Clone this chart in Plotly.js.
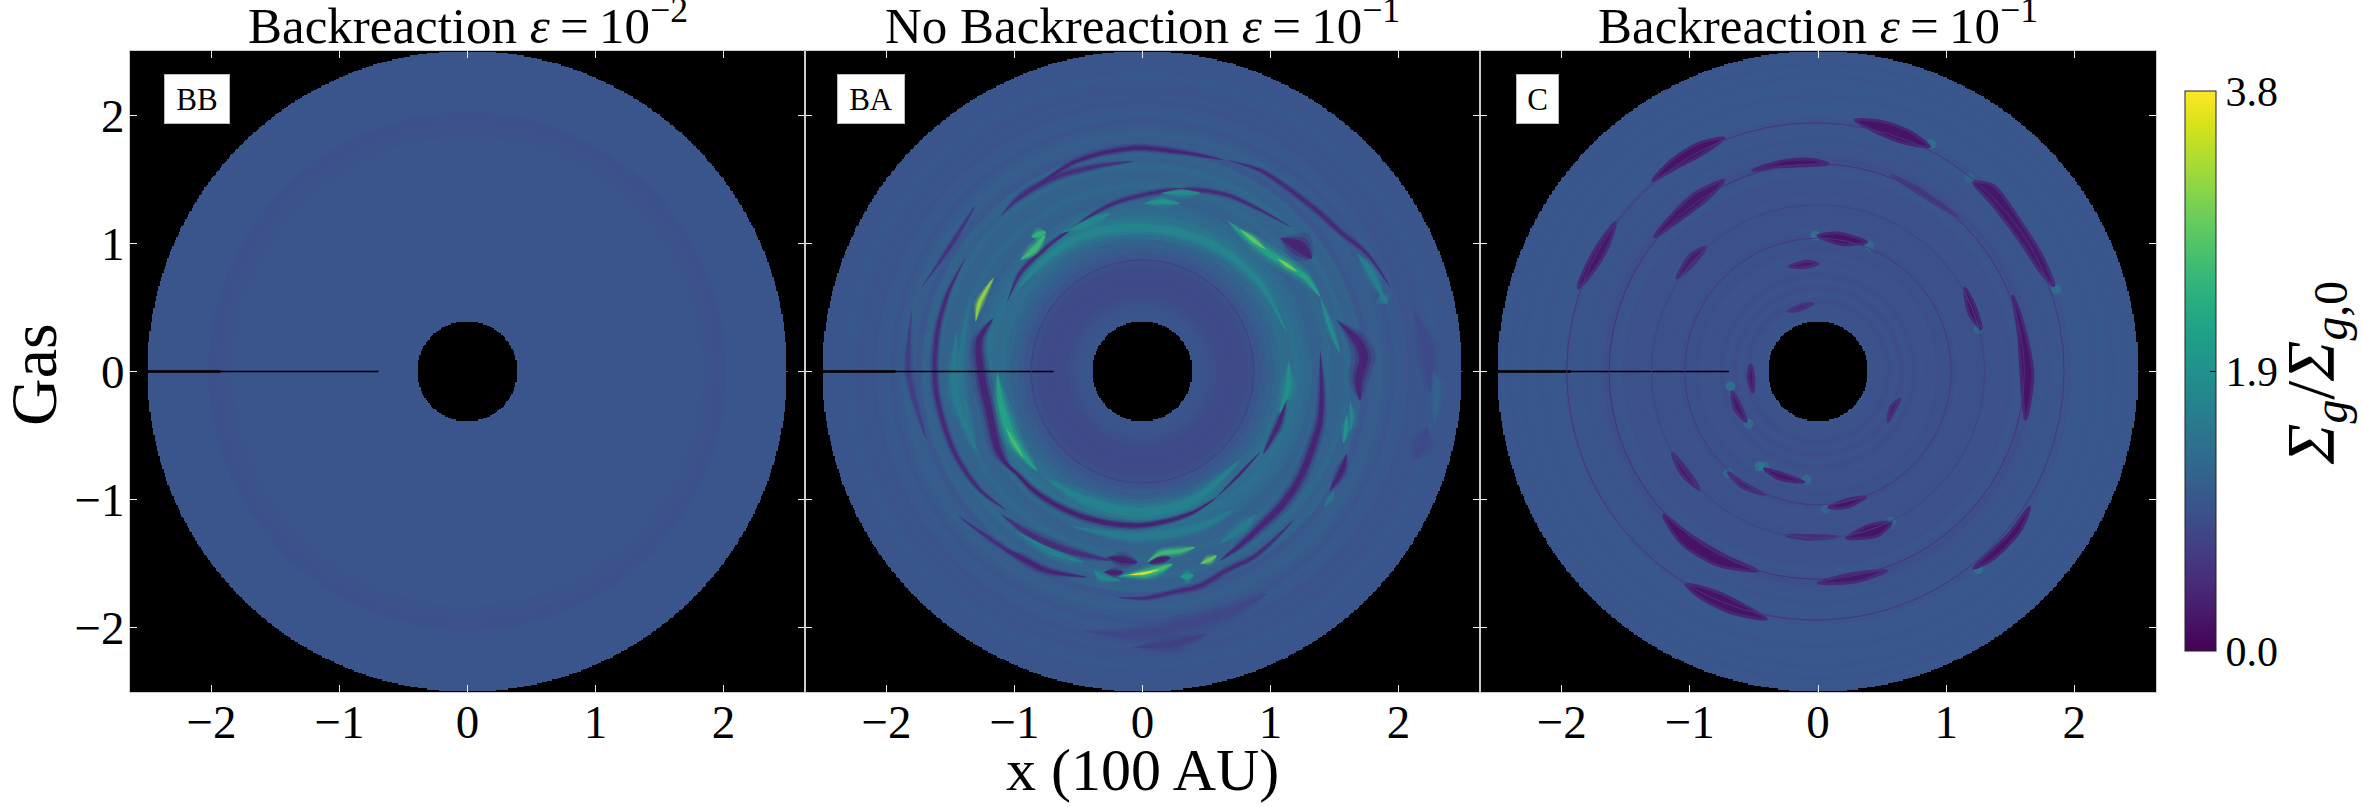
<!DOCTYPE html>
<html><head><meta charset="utf-8">
<script src="https://cdn.plot.ly/plotly-3.0.1.min.js"></script>
<style>html,body{margin:0;padding:0;background:#fff}</style></head>
<body><div id="chart" style="width:2362px;height:807px"></div>
<script>
// ---------- data (x, y in 100 AU; values in Sigma_g/Sigma_g0) ----------
const panelTitles = ['Backreaction <i>ε</i>\u2009=\u200910<sup>−2</sup>','No Backreaction <i>ε</i>\u2009=\u200910<sup>−1</sup>','Backreaction <i>ε</i>\u2009=\u200910<sup>−1</sup>'];
const panelLabels = ['BB','BA','C'];
const tickValues = [-2,-1,0,1,2];
const colorTicks = [0,1.9,3.8];
const colorTickLabels = ['0.0','1.9','3.8'];
const diskOuter = 2.5, diskInner = 0.39;
const slitThickX = [-2.5,-1.93], slitThinX = [-2.5,-0.695], slitY = [0,0];

// azimuthal-mean profile, one value per radius
const radii = [.40,.45,.50,.55,.60,.65,.70,.75,.80,.85,.90,.95,1.0,1.05,1.10,1.15,1.20,1.25,1.30,1.35,1.40,1.45,1.50,1.55,1.60,1.65,1.70,1.75,1.80,1.85,1.90,1.95,2.0,2.05,2.10,2.15,2.20,2.25,2.30,2.35,2.40,2.45,2.50];
const profileBB = [1.0,1.0,1.0,.99,.99,1.0,1.0,1.0,1.0,1.0,1.0,1.0,1.0,1.0,1.0,1.0,1.0,1.0,1.0,1.0,1.0,1.0,1.0,1.0,1.0,1.0,1.0,1.0,1.0,.98,.95,.93,.94,.99,1.0,1.0,1.0,1.0,1.0,1.0,1.0,1.0,1.0];
const profileBA = [1.0,1.0,.98,.92,.88,.85,.84,.85,.88,.92,1.0,1.08,1.15,1.25,1.35,1.3,1.4,1.32,1.25,1.15,1.2,1.25,1.18,1.18,1.25,1.15,1.2,1.02,1.08,1.12,1.05,1.0,1.05,1.02,.97,1.0,.97,1.0,1.03,1.0,1.0,1.0,1.0];
const profileC = [1.0,.96,.95,.92,.95,.9,.95,.92,.96,.93,.96,.92,.94,.92,.96,.93,.96,.93,.94,.96,.93,.96,.94,1.0,.96,.92,.96,1.0,.98,1.0,1.0,.96,1.02,1.04,1.02,1.0,1.04,1.02,1.0,1.03,1.0,1.02,1.0];

// thin rings: centre x, radius, value
const ringsBAx = [0], ringsBAr = [.87], ringsBAv = [.72];
const ringsCx = [-.02,-.01,0,0], ringsCr = [1.94,1.62,1.3,1.04], ringsCv = [.6,.55,.75,.65];

// streaks in panel BA
const baV = [.3,.3,.35,.35,.35,.35,.35,.35,.4,.35,.4,.45,.35,.3,.3,.3,.4,.8,.7,.4,
 .45,.4,.85,.85,.65,.5,.45,
 1.7,1.6,1.6,1.7,1.6,1.2,1.6,1.5,
 1.75,1.9,2.2,2.9,3.1,1.9,3.2,2.5,2.6,2.2,2.7,2.0,1.9,1.8,2.0,1.8,1.5,1.7,
 2.2,2.7,3.8,2.6,2.9,2.1,1.8];
const baX = [
 [-1.11,-.98,-.85,-.67,-.46,-.227,-.018,.19,.40,.58],
 [.58,.763,.92],
 [-1.0,-1.118,-1.205,-1.258,-1.275,-1.17],
 [1.13,1.065,.945],
 [1.388,1.40,1.388,1.31,1.206,1.076,.945,.763,.607],
 [1.518,1.674,1.727,1.688,1.70],
 [1.596,1.557,1.466],
 [1.076,1.232,1.323],
 [.66,.92,1.154,1.388,1.544,1.753,1.935],
 [-1.0,-.54,-.09,.3,.64],
 [-.695,-.46,-.227,.06,.346,.66,.92,1.154],
 [-1.11,-.85,-.59,-.25],
 [-1.11,-.956,-.747,-.435],
 [-.28,-.15,-.04],
 [-.30,-.22,-.15],
 [.05,.13,.216],
 [-.2,.008,.242,.45,.66,.867,1.02,1.18],
 [-.46,-.07,.346,.71,.97],
 [-.07,.24,.5],
 [-1.38,-1.52,-1.606,-1.613,-1.467,-1.275,-1.066],
 [-1.11,-.956,-.67,-.36,-.07],
 [-1.06,-.956,-.773,-.513],
 [2.12,2.22,2.25],
 [2.22,2.2,2.12],
 [-1.8,-1.83,-1.69],
 [-1.73,-1.48,-1.31],
 [-1.45,-1.17,-.79],
 [-.77,-.46,-.02,.4,.76],
 [-.59,-.07,.45,.71],
 [.89,.79,.607],
 [-1.0,-.72,-.46],
 [-1.45,-1.47,-1.29],
 [2.27,2.3,2.28],
 [1.857,1.88,1.91],
 [-1.34,-1.42,-1.3],
 [-1.0,-.8,-.51,-.2,.19,.58,.92,1.13],
 [1.14,1.14,1.07],
 [.66,.815,.97,1.13,1.28,1.388],
 [.76,.86,.96],
 [1.05,1.13,1.206],
 [1.388,1.466,1.544],
 [-1.303,-1.275,-1.164],
 [-.87,-.81,-.753],
 [-.956,-.85,-.76],
 [-1.136,-1.10,-.997,-.822],
 [-1.066,-1.0,-.927],
 [.008,.15,.294],
 [.138,.3,.45],
 [-.64,-.435,-.25],
 [1.596,1.59,1.57],
 [1.62,1.635,1.63],
 [1.42,1.46,1.5],
 [1.68,1.78,1.88],
 [-.2,.008,.14,.24],
 [-.16,.008,.14,.226],
 [-.11,.008,.13],
 [.034,.138,.294,.41],
 [.45,.52,.58],
 [.294,.35,.40],
 [-.38,-.33,-.17]
];
const baY = [
 [-.667,-.797,-.927,-1.044,-1.135,-1.188,-1.2,-1.167,-1.096,-.98],
 [-.98,-.797,-.628],
 [-.8,-.637,-.275,-.034,.247,.41],
 [-.2,-.406,-.64],
 [.167,-.12,-.38,-.64,-.875,-1.057,-1.187,-1.357,-1.474],
 [.40,.245,.115,-.068,-.224],
 [-.64,-.77,-.927],
 [1.04,.974,.883],
 [1.65,1.57,1.417,1.234,1.09,.92,.66],
 [1.31,1.63,1.74,1.71,1.65],
 [1.0,1.18,1.31,1.39,1.42,1.377,1.26,1.13],
 [-1.11,-1.29,-1.396,-1.474],
 [-1.37,-1.448,-1.552,-1.604],
 [-1.45,-1.47,-1.49],
 [-1.565,-1.57,-1.565],
 [-1.5,-1.47,-1.45],
 [-1.76,-1.77,-1.72,-1.67,-1.55,-1.448,-1.32,-1.16],
 [-2.02,-2.05,-1.97,-1.865,-1.73],
 [-2.15,-2.125,-2.05],
 [.89,.61,.287,-.155,-.637,-.919,-1.08],
 [1.21,1.365,1.52,1.6,1.64],
 [.53,.766,.948,1.156],
 [.48,.19,-.17],
 [-.43,-.55,-.69],
 [.49,0,-.52],
 [.65,1.01,1.29],
 [-1.12,-1.32,-1.56],
 [-.82,-1.0,-1.1,-1.0,-.69],
 [-1.2,-1.29,-1.21,-1.08],
 [-1.11,-1.21,-1.34],
 [-1.24,-1.4,-1.49],
 [.33,-.15,-.64],
 [0,-.1,-.4],
 [.61,.57,.53],
 [.6,0,-.6],
 [.61,.84,1.04,1.117,1.104,.974,.687,.297],
 [.09,-.12,-.33],
 [1.18,1.05,.935,.83,.727,.583],
 [1.11,1.03,.955],
 [.883,.83,.779],
 [.583,.349,.14],
 [.388,.529,.73],
 [1.05,1.07,1.09],
 [.87,.948,1.065],
 [0,-.275,-.557,-.778],
 [-.436,-.56,-.677],
 [1.31,1.325,1.31],
 [1.39,1.40,1.39],
 [1.08,1.156,1.234],
 [-.328,-.45,-.56],
 [-.22,-.34,-.46],
 [-1.06,-1.0,-.93],
 [.92,.78,.58],
 [-1.60,-1.578,-1.54,-1.50],
 [-1.592,-1.578,-1.54,-1.505],
 [-1.585,-1.575,-1.545],
 [-1.487,-1.42,-1.40,-1.37],
 [-1.50,-1.47,-1.435],
 [-1.60,-1.60,-1.59],
 [-1.55,-1.6,-1.63]
];
const baW = [5,2,9,5,7,11,6,14,4,4,3.5,7,5,8,6,7,4,10,8,4.5,
 4.5,3.5,12,12,5,3,3,
 12,8,8,7,9,9,9,7,
 10,7,8,4.5,4,4.5,4.5,7,7,9,4.5,6,7,8,5,4,5,8,
 7,5,3,5,5,7,6];

// dark crescents in panel C, value of each and its outline
const cV = [.2,.2,.2,.25,.25,.25,.3,.45,.2,.25,.35,.2,.2,.25,.25,.3,.25,.3,.2,.2,.2,.3,.2,.2,.25,.2];
const cX = [
 [.29,.50,.71,.87,.68,.47],
 [-.735,-.93,-1.135,-1.29,-1.10,-.91],
 [-.51,-.265,-.056,.08,-.125,-.33],
 [1.215,1.37,1.58,1.755,1.84,1.74,1.58,1.37],
 [-.735,-.96,-1.17,-1.275,-1.066,-.857],
 [-1.58,-1.73,-1.85,-1.87,-1.745,-1.64],
 [-.875,-.996,-1.10,-.996],
 [.57,.815,1.09,.85],
 [0,.153,.38,.19],
 [-.22,-.09,0,-.125],
 [-.23,-.125,-.04,-.14],
 [1.146,1.216,1.275,1.18],
 [1.52,1.6,1.676,1.62,1.59,1.565],
 [-.525,-.5,-.51,-.545],
 [-.67,-.61,-.56,-.65],
 [.64,.59,.547,.57],
 [-1.136,-1.014,-.927,-1.066],
 [-.70,-.56,-.42,-.596],
 [-.42,-.265,-.108,-.30],
 [.084,.223,.37,.223],
 [.223,.397,.571,.467],
 [-.247,-.073,.153,-.073],
 [-1.205,-.99,-.72,-.474,-.787,-1.066],
 [1.65,1.477,1.216,1.37,1.58],
 [0,.258,.537,.293],
 [-1.03,-.787,-.404,-.683,-.927]
];
const cY = [
 [1.96,1.95,1.875,1.755,1.78,1.86],
 [1.82,1.78,1.655,1.49,1.59,1.69],
 [1.57,1.645,1.655,1.62,1.605,1.595],
 [1.475,1.45,1.17,.89,.67,.77,1.01,1.29],
 [1.49,1.39,1.19,1.05,1.19,1.35],
 [1.165,.97,.73,.65,.79,.97],
 [.97,.91,.73,.81],
 [1.535,1.41,1.21,1.35],
 [1.06,1.08,1.01,.99],
 [.82,.86,.84,.81],
 [.47,.52,.53,.48],
 [.65,.53,.33,.45],
 [.59,.37,-.03,-.375,-.115,.29],
 [.055,-.055,-.16,-.055],
 [-.16,-.255,-.39,-.295],
 [-.215,-.315,-.39,-.275],
 [-.637,-.778,-.92,-.798],
 [-.79,-.88,-.96,-.90],
 [-.757,-.80,-.862,-.84],
 [-1.06,-1.0,-.98,-1.06],
 [-1.30,-1.2,-1.18,-1.28],
 [-1.28,-1.28,-1.288,-1.31],
 [-1.12,-1.28,-1.44,-1.554,-1.51,-1.34],
 [-1.06,-1.28,-1.534,-1.46,-1.24],
 [-1.65,-1.58,-1.554,-1.642],
 [-1.66,-1.72,-1.93,-1.88,-1.76]
];
// brighter spots at the crescent tips
const spotsX = [.885,1.86,-.02,1.25,-.456,-.683,-.54,-.09,1.25,.40,-.42,-.70,1.18,.06,.57];
const spotsY = [1.775,.64,1.06,-1.54,-.74,-.115,-.405,-.845,.33,.98,-.74,-.79,1.51,-1.07,-1.17];
const spotsV = [1.7,1.8,1.8,1.8,1.9,1.8,1.7,1.7,1.6,1.6,1.7,1.6,1.5,1.5,1.6];

// ---------- styles and layout ----------
const serif = '"Liberation Serif","Times New Roman",serif';
const W = 2362, H = 807, pxPerUnit = 128;
const viridisStops = ['#440154','#482878','#3e4989','#31688e','#26828e','#1f9e89','#35b779','#6ece58','#b5de2b','#fde725'];
function colourOf(v){
  const t = Math.max(0,Math.min(1,v/3.8))*(viridisStops.length-1), i = Math.min(Math.floor(t),viridisStops.length-2), f = t-i;
  const rgb = s=>[1,3,5].map(k=>parseInt(s.substr(k,2),16));
  const a = rgb(viridisStops[i]), b = rgb(viridisStops[i+1]);
  return 'rgb('+a.map((c,k)=>Math.round(c+(b[k]-c)*f)).join(',')+')';
}
// outline of a streak that tapers to its two tips, for a read centre line and width
function streakOutline(xs,ys,widthPx){
  const n = xs.length, L = [], R = [];
  for(let i=0;i<n;i++){
    const a = Math.max(i-1,0), b = Math.min(i+1,n-1);
    let dx = xs[b]-xs[a], dy = ys[b]-ys[a]; const d = Math.hypot(dx,dy)||1; dx/=d; dy/=d;
    const h = widthPx/2/pxPerUnit*Math.pow(Math.sin(Math.PI*i/(n-1)),.6);
    L.push([xs[i]-dy*h,ys[i]+dx*h]); R.push([xs[i]+dy*h,ys[i]-dx*h]);
  }
  const ring = L.concat(R.reverse().slice(1));
  ring.push(ring[0]);
  return {x:ring.map(p=>p[0]),y:ring.map(p=>p[1])};
}
const panelLeft = [130,805,1480], panelRight = [805,1480,2156], panelTop = 51, panelBottom = 692;
const xHalf = 2.637;

// pixels of the disk, each taking the profile value of its nearest radius
const cell = 0.01, cells = [];
for(let i=-252;i<=252;i++) cells.push(i*cell);
function diskGrid(profile){
  return cells.map(y=>cells.map(x=>{
    const r = Math.hypot(x,y);
    if(r>diskOuter||r<diskInner) return null;
    return profile[Math.max(0,Math.min(radii.length-1,Math.round((r-radii[0])/0.05)))];
  }));
}

const traces = [];
[profileBB,profileBA,profileC].forEach((p,k)=>{
  const s = k?String(k+1):'';
  const t = {type:'heatmap',x:cells,y:cells,z:diskGrid(p),zmin:0,zmax:3.8,colorscale:'Viridis',xaxis:'x'+s,yaxis:'y'+s,hoverinfo:'skip',showscale:k===0};
  if(k===0) t.colorbar = {x:2185/W,xanchor:'left',xpad:0,y:1-371/H,yanchor:'middle',ypad:0,lenmode:'pixels',len:560,thicknessmode:'pixels',thickness:31,
    tickmode:'array',tickvals:colorTicks,ticktext:colorTickLabels,ticks:'inside',ticklen:6,tickcolor:'#000',tickfont:{family:serif,size:42,color:'#000'},
    outlinecolor:'#222',outlinewidth:1};
  traces.push(t);
});
// streaks of panel BA: soft wide passes, then the core
[[2.2,.22],[1.4,.4],[.8,.85]].forEach(([scale,op])=>{
  baX.forEach((xs,i)=>{
    const o = streakOutline(xs,baY[i],baW[i]*scale);
    traces.push({type:'scatter',mode:'lines',x:o.x,y:o.y,xaxis:'x2',yaxis:'y2',hoverinfo:'skip',showlegend:false,
      fill:'toself',fillcolor:colourOf(baV[i]),opacity:op,line:{width:0,shape:'spline',smoothing:.9}});
  });
});
// crescents of panel C
traces.push({type:'scatter',mode:'markers',x:spotsX,y:spotsY,xaxis:'x3',yaxis:'y3',hoverinfo:'skip',showlegend:false,
  marker:{size:10,color:spotsV.map(colourOf),opacity:.5,line:{width:0}}});
cX.forEach((xs,i)=>{
  traces.push({type:'scatter',mode:'lines',x:xs.concat(xs[0]),y:cY[i].concat(cY[i][0]),xaxis:'x3',yaxis:'y3',hoverinfo:'skip',showlegend:false,
    fill:'toself',fillcolor:colourOf(cV[i]),line:{color:colourOf(cV[i]+.2),width:3,shape:'spline',smoothing:.8}});
});
// the slit on the negative x axis
['','2','3'].forEach(s=>{
  traces.push({type:'scatter',mode:'lines',x:slitThinX,y:slitY,xaxis:'x'+s,yaxis:'y'+s,hoverinfo:'skip',showlegend:false,line:{color:'#000',width:1.3}});
  traces.push({type:'scatter',mode:'lines',x:slitThickX,y:slitY,xaxis:'x'+s,yaxis:'y'+s,hoverinfo:'skip',showlegend:false,line:{color:'#000',width:2.6}});
});

const layout = {width:W,height:H,margin:{l:0,r:0,t:0,b:0,autoexpand:false},paper_bgcolor:'#fff',plot_bgcolor:'#000',showlegend:false,
  font:{family:serif,color:'#000'},shapes:[],annotations:[]};
panelLeft.forEach((L,k)=>{
  const s = k?String(k+1):'';
  layout['xaxis'+s] = {domain:[L/W,panelRight[k]/W],range:[-xHalf,xHalf],anchor:'y'+s,tickmode:'array',tickvals:tickValues,ticks:'inside',ticklen:7,tickwidth:1,tickcolor:'#eee',ticklabelstandoff:-11,
    showgrid:false,zeroline:false,showline:true,linecolor:'#ccc',linewidth:1,mirror:'ticks',tickfont:{family:serif,size:47,color:'#000'}};
  layout['yaxis'+s] = {domain:[1-panelBottom/H,1-panelTop/H],range:[-2.5,2.5],anchor:'x'+s,tickmode:'array',tickvals:tickValues,ticks:'inside',ticklen:7,tickwidth:1,tickcolor:'#eee',ticklabelstandoff:-5,
    showgrid:false,zeroline:false,showline:true,linecolor:'#ccc',linewidth:1,mirror:'ticks',showticklabels:k===0,tickfont:{family:serif,size:47,color:'#000'}};
  layout.annotations.push({xref:'paper',yref:'paper',x:(L+panelRight[k])/2/W,y:1-50/H,xanchor:'center',yanchor:'bottom',showarrow:false,yshift:-6,
    text:panelTitles[k],font:{family:serif,size:51,color:'#000'}});
});
layout.annotations.push({xref:'paper',yref:'paper',x:1142/W,y:1-770/H,xanchor:'center',yanchor:'middle',showarrow:false,text:'x (100 AU)',font:{family:serif,size:60,color:'#000'}});
layout.annotations.push({xref:'paper',yref:'paper',x:33/W,y:1-375/H,xanchor:'center',yanchor:'middle',showarrow:false,textangle:-90,text:'Gas',font:{family:serif,size:66,color:'#000'}});
layout.annotations.push({xref:'paper',yref:'paper',x:2314/W,y:1-373/H,xanchor:'center',yanchor:'middle',showarrow:false,textangle:-90,
  text:'<i>Σ<sub>g</sub></i>/<i>Σ<sub>g</sub></i><sub>,0</sub>',font:{family:serif,size:68,color:'#000'}});
const boxLeft = [164,837,1516], boxRight = [228,903,1557];
panelLabels.forEach((t,k)=>{
  layout.annotations.push({xref:'paper',yref:'paper',x:boxLeft[k]/W,y:1-74/H,xanchor:'left',yanchor:'top',showarrow:false,text:t,
    width:boxRight[k]-boxLeft[k],height:48,align:'center',valign:'middle',bgcolor:'#fff',borderpad:0,borderwidth:1,bordercolor:'#bbb',font:{family:serif,size:31,color:'#000'}});
});
[[ringsBAx,ringsBAr,ringsBAv,'2'],[ringsCx,ringsCr,ringsCv,'3']].forEach(([cx,cr,cv,s])=>{
  cx.forEach((c,i)=>layout.shapes.push({type:'circle',xref:'x'+s,yref:'y'+s,x0:c-cr[i],x1:c+cr[i],y0:-cr[i],y1:cr[i],line:{color:colourOf(cv[i]),width:1},fillcolor:'rgba(0,0,0,0)',layer:'above'}));
});
Plotly.newPlot('chart',traces,layout,{displayModeBar:false,staticPlot:true});
</script></body></html>
